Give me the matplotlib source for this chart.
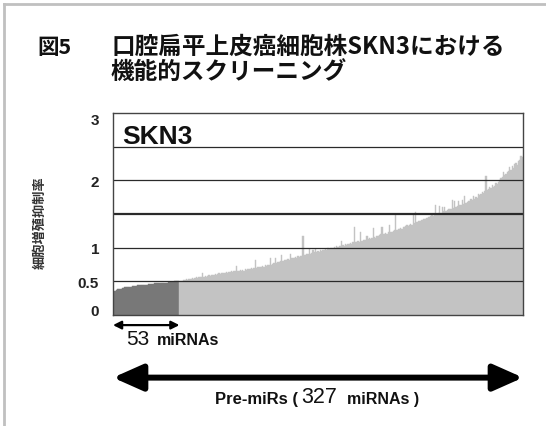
import matplotlib
matplotlib.use("Agg")
import matplotlib.pyplot as plt
import matplotlib.transforms as mtransforms
from matplotlib.lines import Line2D

# 53 selected miRNAs (dark) followed by the remaining pre-miRs (light), sorted
dark_values = [
    0.34, 0.36, 0.37, 0.38, 0.38, 0.39, 0.39, 0.40, 0.40, 0.41,
    0.41, 0.41, 0.42, 0.42, 0.42, 0.43, 0.43, 0.43, 0.43, 0.44,
    0.44, 0.44, 0.44, 0.45, 0.45, 0.45, 0.45, 0.45, 0.46, 0.46,
    0.46, 0.46, 0.46, 0.47, 0.47, 0.47, 0.47, 0.47, 0.48, 0.48,
    0.48, 0.48, 0.48, 0.48, 0.49, 0.49, 0.49, 0.49, 0.49, 0.50,
    0.50, 0.50, 0.50,
]
light_values = [
    0.50, 0.51, 0.51, 0.52, 0.52, 0.53, 0.52, 0.53, 0.54, 0.54,
    0.55, 0.54, 0.55, 0.56, 0.55, 0.56, 0.57, 0.56, 0.62, 0.57,
    0.58, 0.57, 0.58, 0.59, 0.58, 0.60, 0.59, 0.60, 0.61, 0.60,
    0.61, 0.62, 0.61, 0.62, 0.63, 0.62, 0.63, 0.64, 0.63, 0.64,
    0.64, 0.65, 0.64, 0.65, 0.66, 0.73, 0.65, 0.66, 0.67, 0.66,
    0.67, 0.66, 0.68, 0.67, 0.68, 0.69, 0.68, 0.70, 0.69, 0.70,
    0.81, 0.70, 0.71, 0.72, 0.71, 0.72, 0.73, 0.72, 0.74, 0.73,
    0.74, 0.75, 0.85, 0.75, 0.76, 0.77, 0.84, 0.77, 0.78, 0.79,
    0.80, 0.89, 0.80, 0.81, 0.82, 0.81, 0.83, 0.82, 0.90, 0.84,
    0.84, 0.85, 0.86, 0.85, 0.87, 0.86, 0.88, 0.87, 1.18, 0.89,
    0.89, 0.90, 0.91, 0.98, 0.91, 0.92, 0.97, 0.93, 0.98, 0.94,
    0.95, 0.94, 0.96, 0.95, 0.97, 0.96, 0.98, 0.97, 0.99, 0.98,
    0.99, 1.00, 0.99, 1.01, 1.00, 1.02, 1.01, 1.03, 1.02, 1.10,
    1.04, 1.03, 1.05, 1.04, 1.06, 1.05, 1.07, 1.06, 1.08, 1.30,
    1.08, 1.09, 1.10, 1.09, 1.24, 1.10, 1.11, 1.12, 1.11, 1.18,
    1.13, 1.14, 1.13, 1.15, 1.29, 1.16, 1.15, 1.17, 1.18, 1.19,
    1.20, 1.31, 1.20, 1.21, 1.22, 1.21, 1.23, 1.33, 1.23, 1.24,
    1.25, 1.26, 1.49, 1.26, 1.27, 1.28, 1.29, 1.28, 1.30, 1.31,
    1.32, 1.33, 1.32, 1.34, 1.35, 1.34, 1.50, 1.36, 1.53, 1.38,
    1.39, 1.40, 1.39, 1.41, 1.42, 1.43, 1.42, 1.44, 1.45, 1.46,
    1.47, 1.48, 1.47, 1.49, 1.63, 1.50, 1.51, 1.62, 1.52, 1.60,
    1.54, 1.60, 1.55, 1.56, 1.57, 1.58, 1.57, 1.71, 1.59, 1.70,
    1.61, 1.62, 1.70, 1.63, 1.64, 1.71, 1.65, 1.76, 1.66, 1.68,
    1.69, 1.70, 1.72, 1.71, 1.77, 1.73, 1.75, 1.74, 1.80, 1.78,
    1.80, 1.82, 1.81, 1.84, 2.07, 1.85, 1.87, 1.90, 1.88, 1.93,
    1.90, 1.92, 1.96, 1.94, 1.98, 2.00, 2.03, 2.05, 2.13, 2.08,
    2.10, 2.12, 2.14, 2.20, 2.16, 2.22, 2.19, 2.24, 2.26, 2.23,
    2.28, 2.30, 2.36, 2.34,
]
ytick_values = [0, 0.5, 1, 2, 3]
ytick_labels = ["0", "0.5", "1", "2", "3"]
grid_values = [0.5, 1.0, 1.5, 2.0, 2.5]

CJK = ["Noto Sans CJK JP", "DejaVu Sans"]
plt.rcParams["font.family"] = ["Liberation Sans", "Noto Sans CJK JP", "DejaVu Sans"]

fig = plt.figure(figsize=(5.46, 4.27), dpi=100)
ax = fig.add_axes([113 / 546, 1 - 316 / 427, 410 / 546, 202 / 427])

n_dark = len(dark_values)
n_all = n_dark + len(light_values)
x_dark = list(range(n_dark))
x_light = list(range(n_dark, n_all))
ax.bar(x_dark, dark_values, width=1.0, color="#787878", edgecolor="#787878", linewidth=0.3, zorder=2)
ax.bar(x_light, light_values, width=1.0, color="#c3c3c3", edgecolor="#c3c3c3", linewidth=0.3, zorder=2)

for g in grid_values:
    ax.axhline(g, color="#2a2a2a", lw=1.6 if g == 1.5 else 0.9, zorder=3)

ax.set_xlim(-0.5, n_all - 0.5)
ax.set_ylim(0, 3)
ax.set_xticks([])
ax.set_yticks(ytick_values)
ax.set_yticklabels(ytick_labels, fontsize=11, fontweight="bold", color="#222222")
ax.tick_params(axis="y", length=0, pad=10)
labels = ax.get_yticklabels()
shift_up = mtransforms.ScaledTranslation(0, 0.05, fig.dpi_scale_trans)
shift_down = mtransforms.ScaledTranslation(0, -0.05, fig.dpi_scale_trans)
labels[0].set_transform(labels[0].get_transform() + shift_up)
labels[-1].set_transform(labels[-1].get_transform() + shift_down)
for spine in ax.spines.values():
    spine.set_color("#444444")
    spine.set_linewidth(1.0)
    spine.set_zorder(4)

ax.text(0.022, 0.885, "SKN3", transform=ax.transAxes, fontsize=19, fontweight="bold",
        color="#111111", va="center", ha="left", zorder=5)

fig.text(40 / 546, 1 - 223 / 427, "細胞増殖抑制率", rotation=90, fontsize=9.5,
         family=CJK, fontweight="bold", color="#333333", ha="center", va="center")

# title
fig.text(37 / 546, 1 - 47 / 427, "図5", fontsize=15.5, family=CJK, fontweight="bold",
         color="#111111", ha="left", va="center")
fig.text(111 / 546, 1 - 47 / 427, "口腔扁平上皮癌細胞株SKN3における", fontsize=17, family=CJK,
         fontweight="bold", color="#111111", ha="left", va="center")
fig.text(111 / 546, 1 - 72 / 427, "機能的スクリーニング", fontsize=17, family=CJK,
         fontweight="bold", color="#111111", ha="left", va="center")

# small arrow under the 53 selected miRNAs
ax.annotate("", xy=(-0.5, -0.05), xytext=(n_dark - 0.5, -0.05),
            xycoords=("data", "axes fraction"), textcoords=("data", "axes fraction"),
            arrowprops=dict(arrowstyle="<|-|>", color="black", lw=1.6,
                            mutation_scale=12, shrinkA=0, shrinkB=0),
            annotation_clip=False)
fig.text(126 / 546, 1 - 340 / 427, "53", fontsize=15, color="#111111", ha="left", va="center")
fig.text(157 / 546, 1 - 341 / 427, "miRNAs", fontsize=11.5, fontweight="bold",
         color="#111111", ha="left", va="center")

# big arrow for all pre-miRs
ax.annotate("", xy=(-0.5, -0.31), xytext=(n_all - 0.5, -0.31),
            xycoords=("data", "axes fraction"), textcoords=("data", "axes fraction"),
            arrowprops=dict(arrowstyle="<|-|>,head_length=0.9,head_width=0.4", color="black",
                            lw=4.3, mutation_scale=20, shrinkA=0, shrinkB=0),
            annotation_clip=False)
fig.text(215 / 546, 1 - 400 / 427, "Pre-miRs (", fontsize=12, fontweight="bold",
         color="#111111", ha="left", va="center")
fig.text(301 / 546, 1 - 398 / 427, "327", fontsize=15.5, color="#111111", ha="left", va="center")
fig.text(347 / 546, 1 - 400 / 427, "miRNAs )", fontsize=11.5, fontweight="bold",
         color="#111111", ha="left", va="center")

# light grey page frame
fig.add_artist(Line2D([4 / 546, 1], [1 - 5 / 427, 1 - 5 / 427], transform=fig.transFigure,
                      color="#c0c0c0", lw=2))
fig.add_artist(Line2D([4 / 546, 4 / 546], [0, 1 - 5 / 427], transform=fig.transFigure,
                      color="#c0c0c0", lw=2))

fig.savefig("out.png", dpi=100)
